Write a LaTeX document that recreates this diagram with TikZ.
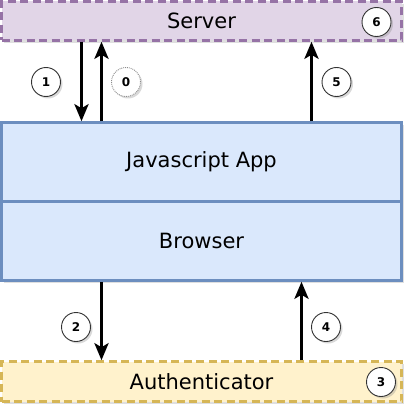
\documentclass[tikz,border=0pt]{standalone}
\usepackage{fontspec}
\setmainfont{DejaVu Sans}
\usetikzlibrary{arrows.meta,shadows}
\definecolor{srvfill}{HTML}{E1D5E7}
\definecolor{srvline}{HTML}{9673A6}
\definecolor{appfill}{HTML}{DAE8FC}
\definecolor{appline}{HTML}{6C8EBF}
\definecolor{authfill}{HTML}{FFF2CC}
\definecolor{authline}{HTML}{D6B656}
\begin{document}
\begin{tikzpicture}[x=1pt,y=-1pt,
  box/.style={draw, line width=2.5pt, minimum width=400pt, inner sep=0pt, font=\fontsize{21}{25}\selectfont,
    drop shadow={shadow xshift=2.5pt, shadow yshift=-2.5pt, opacity=0.25}},
  num/.style={circle, draw=black!80, line width=0.9pt, fill=white, minimum size=29pt, inner sep=0pt,
    font=\bfseries\fontsize{12}{14}\selectfont, drop shadow={shadow xshift=2pt, shadow yshift=-2pt, opacity=0.3}},
  flow/.style={-{Stealth[length=17pt,width=14pt,inset=4pt]}, line width=3.5pt}]
  \useasboundingbox (0,0) rectangle (409,409);
	\node[box, dashed, dash pattern=on 8pt off 4.5pt, draw=srvline, fill=srvfill, minimum height=39pt] (server) at (201.5,21) {Server};
	\node[box, draw=appline, fill=appfill, minimum height=79pt] (app) at (201.5,162) {Javascript App};
	\node[box, draw=appline, fill=appfill, minimum height=79pt] (browser) at (201.5,241) {Browser};
	\node[box, dashed, dash pattern=on 8pt off 4.5pt, draw=authline, fill=authfill, minimum height=40pt] (auth) at (201.5,381.5) {Authenticator};
	\coordinate (xa) at (81.5,0);
	\coordinate (xb) at (101.5,0);
	\coordinate (xc) at (311.5,0);
	\coordinate (xd) at (301.5,0);
	\draw[flow] (xa |- server.south) -- (xa |- app.north);
	\draw[flow] (xb |- app.north) -- (xb |- server.south);
	\draw[flow] (xc |- app.north) -- (xc |- server.south);
	\draw[flow] (xb |- browser.south) -- (xb |- auth.north);
	\draw[flow] (xd |- auth.north) -- (xd |- browser.south);
	\node[num] (n1) at (46,82) {1};
	\node[num, draw=black!45, densely dotted] (n0) at (126,82) {0};
	\node[num] (n5) at (336.5,82) {5};
	\node[num] (n6) at (376.5,22) {6};
	\node[num] (n2) at (76,327) {2};
	\node[num] (n4) at (326,327) {4};
	\node[num] (n3) at (381,382) {3};
\end{tikzpicture}
\end{document}
